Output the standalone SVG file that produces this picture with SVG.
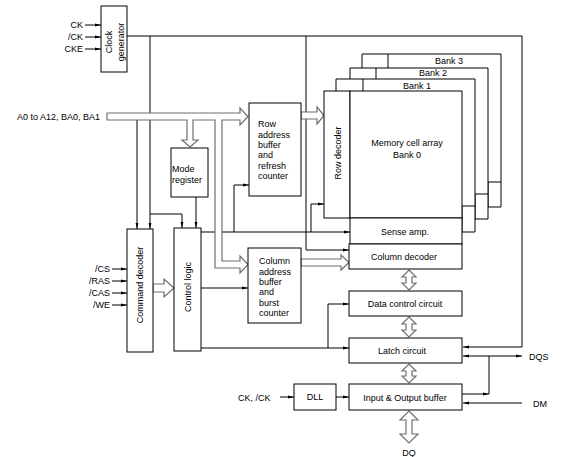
<svg xmlns="http://www.w3.org/2000/svg" width="567" height="457" viewBox="0 0 567 457">
<defs>
<marker id="a" markerWidth="6" markerHeight="4" refX="6" refY="2" orient="auto-start-reverse" markerUnits="userSpaceOnUse"><path d="M0,0.6 L6,2 L0,3.4z" fill="#000"/></marker>
<style>
.b{fill:#fff;stroke:#000;stroke-width:1}
.t{font-family:"Liberation Sans",Arial,sans-serif;font-size:9px;fill:#000}
.c{text-anchor:middle}
.e{text-anchor:end}
.l{fill:none;stroke:#000;stroke-width:1}
.h{fill:#fff;stroke:#6e6e6e;stroke-width:1.2;stroke-linejoin:miter}
</style>
</defs>
<rect width="567" height="457" fill="#fff"/>
<g id="connectors">
<g class="l" marker-end="url(#a)">
<path d="M85,25H101"/><path d="M85,37H101"/><path d="M85,49H101"/>
<path d="M127,36H522V347H463"/>
<path d="M150,36V229"/>
<path d="M137,120V229"/>
<path d="M150,214H182V228"/>
<path d="M196,197V228"/>
<path d="M306,36V250H349"/>
<path d="M201,232H350"/>
<path d="M234,232V185H249"/>
<path d="M311,232V204H324"/>
<path d="M201,288H248"/>
<path d="M201,348H349"/>
<path d="M328,348V304H349"/>
<path d="M462,394H489"/>
<path d="M522,403H463"/>
<path d="M280,397H294"/>
<path d="M336,397H349"/>
<path d="M112,269H127"/><path d="M112,281H127"/><path d="M112,293H127"/><path d="M112,305H127"/>
<path d="M463,356H522" marker-start="url(#a)"/>
</g>
<path class="l" d="M489,356V394"/>
<path class="h" d="M107,113H240V108L248,116.5L240,125V120H222V261H240V256L248,264.5L240,273V268H215V120H193V140H198L190,147L182,140H187V120H107Z"/>
<path class="h" d="M301,112H317V107L324,115.5L317,124V119H301Z"/>
<path class="h" d="M153,284H164V279L174,288L164,297V292H153Z"/>
<path class="h" d="M301,259H341V255L349,262.5L341,270V266H301Z"/>
<path class="h" d="M409,270L416,277H412V283H416L409,290L402,283H406V277H402Z"/>
<path class="h" d="M409,317L416,324H412V330H416L409,337L402,330H406V324H402Z"/>
<path class="h" d="M409,364L416,371H412V376H416L409,383L402,376H406V371H402Z"/>
<path class="h" d="M409,411L418,420H412V434H418L409,443L400,434H406V420H400Z"/>
</g>
<g id="clock-generator">
<rect class="b" x="101" y="6" width="26" height="66"/>
<text class="t c" transform="translate(112,42) rotate(-90)">Clock</text>
<text class="t c" transform="translate(123.5,42) rotate(-90)">generator</text>
</g>
<g id="inputs" class="t">
<text class="t e" x="83" y="28">CK</text>
<text class="t e" x="83" y="40">/CK</text>
<text class="t e" x="83" y="52">CKE</text>
<text class="t" x="17" y="120">A0 to A12, BA0, BA1</text>
<text class="t e" x="110" y="272">/CS</text>
<text class="t e" x="110" y="284">/RAS</text>
<text class="t e" x="110" y="296">/CAS</text>
<text class="t e" x="110" y="308">/WE</text>
<text class="t" x="238" y="401">CK, /CK</text>
<text class="t" x="529" y="360">DQS</text>
<text class="t" x="533" y="407">DM</text>
<text class="t c" x="409" y="456">DQ</text>
</g>
<g id="mode-register">
<rect class="b" x="171" y="148" width="37" height="49"/>
<text class="t" x="172" y="172">Mode</text>
<text class="t" x="172" y="183">register</text>
</g>
<g id="command-decoder">
<rect class="b" x="127" y="229" width="26" height="123"/>
<text class="t c" transform="translate(143,285) rotate(-90)">Command decoder</text>
</g>
<g id="control-logic">
<rect class="b" x="174" y="228" width="27" height="123"/>
<text class="t c" transform="translate(191,287) rotate(-90)">Control logic</text>
</g>
<g id="row-address-buffer">
<rect class="b" x="249" y="103" width="52" height="93"/>
<text class="t" x="258" y="127">Row</text>
<text class="t" x="258" y="137.5">address</text>
<text class="t" x="258" y="148">buffer</text>
<text class="t" x="258" y="158">and</text>
<text class="t" x="258" y="168.5">refresh</text>
<text class="t" x="258" y="179">counter</text>
</g>
<g id="column-address-buffer">
<rect class="b" x="248" y="248" width="53" height="75"/>
<text class="t" x="259" y="264">Column</text>
<text class="t" x="259" y="274.5">address</text>
<text class="t" x="259" y="285">buffer</text>
<text class="t" x="259" y="295">and</text>
<text class="t" x="259" y="305.5">burst</text>
<text class="t" x="259" y="316">counter</text>
</g>
<g id="bank3">
<path class="b" d="M362,68V54H501V207H488V182H501"/>
<path class="l" d="M388,54V68"/>
<text class="t c" x="449" y="64">Bank 3</text>
</g>
<g id="bank2">
<path class="b" d="M350,79V68H488V219H475V194H488"/>
<path class="l" d="M376,68V79"/>
<text class="t c" x="433" y="76">Bank 2</text>
</g>
<g id="bank1">
<path class="b" d="M336,91V79H475V232H462V206H475"/>
<path class="l" d="M363,79V91"/>
<text class="t c" x="417" y="89">Bank 1</text>
</g>
<g id="row-decoder">
<rect class="b" x="324" y="91" width="26" height="127"/>
<text class="t c" transform="translate(341,153) rotate(-90)">Row decoder</text>
</g>
<g id="memory-cell-array">
<rect class="b" x="350" y="91" width="112" height="127"/>
<text class="t c" x="407" y="146">Memory cell array</text>
<text class="t c" x="407" y="158">Bank 0</text>
</g>
<g id="sense-amp">
<rect class="b" x="350" y="218" width="112" height="26"/>
<text class="t c" x="405" y="235">Sense amp.</text>
</g>
<g id="column-decoder">
<rect class="b" x="349" y="244" width="113" height="25"/>
<text class="t c" x="404" y="260">Column decoder</text>
</g>
<g id="data-control-circuit">
<rect class="b" x="349" y="291" width="113" height="25"/>
<text class="t c" x="405" y="307">Data control circuit</text>
</g>
<g id="latch-circuit">
<rect class="b" x="349" y="338" width="113" height="25"/>
<text class="t c" x="402" y="354">Latch circuit</text>
</g>
<g id="io-buffer">
<rect class="b" x="349" y="384" width="113" height="26"/>
<text class="t c" x="405" y="401">Input &amp; Output buffer</text>
</g>
<g id="dll">
<rect class="b" x="294" y="384" width="42" height="26"/>
<text class="t c" x="315" y="400">DLL</text>
</g>
</svg>
